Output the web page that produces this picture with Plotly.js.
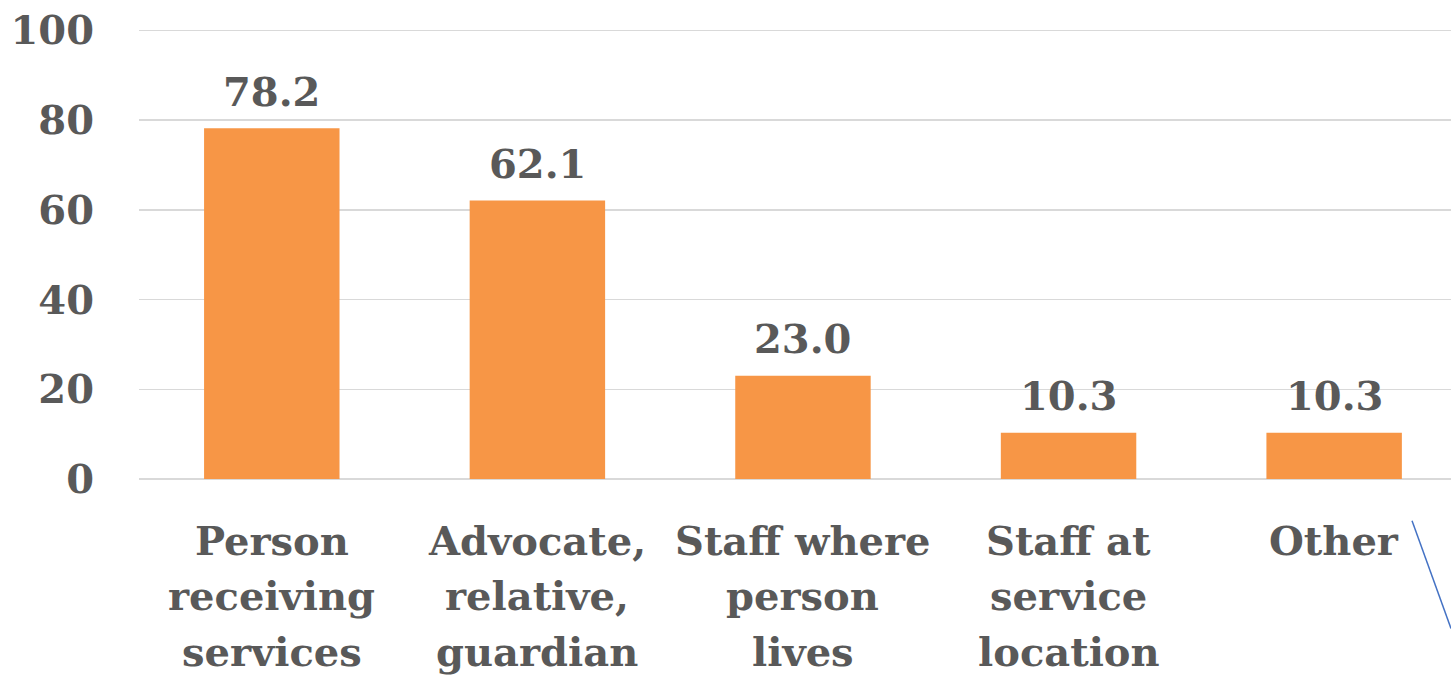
<!DOCTYPE html>
<html>
<head>
<meta charset="utf-8">
<script src="https://cdn.plot.ly/plotly-3.0.1.min.js"></script>
<style>html,body{margin:0;padding:0;background:#fff;}#chart{width:1451px;height:676px;}</style>
</head>
<body>
<div id="chart"></div>
<script>
const categories = ["Person receiving services", "Advocate, relative, guardian", "Staff where person lives", "Staff at service location", "Other"];
const labelLines = [
  ["Person", "receiving", "services"],
  ["Advocate,", "relative,", "guardian"],
  ["Staff where", "person", "lives"],
  ["Staff at", "service", "location"],
  ["Other"]
];
const values = [78.2, 62.1, 23.0, 10.3, 10.3];
const yTicks = [0, 20, 40, 60, 80, 100];

const FONT = "'DejaVu Serif', 'Liberation Serif', serif";
const TXT = "#595959";
const FS = 40;

const annotations = [];
categories.forEach((c, i) => {
  annotations.push({
    x: c, y: values[i], xref: 'x', yref: 'y',
    text: values[i].toFixed(1), showarrow: false,
    yanchor: 'middle', yshift: 37,
    font: {family: FONT, size: FS, color: TXT, weight: 'bold'}
  });
  labelLines[i].forEach((line, j) => {
    annotations.push({
      x: c, y: 0, xref: 'x', yref: 'paper',
      text: line, showarrow: false,
      yanchor: 'middle', yshift: -61 - j * 55.5,
      font: {family: FONT, size: FS, color: TXT, weight: 'bold'}
    });
  });
});

const trace = {
  type: 'bar',
  x: categories,
  y: values,
  marker: {color: '#F79646'},
  hoverinfo: 'x+y'
};

const layout = {
  width: 1451, height: 676,
  margin: {l: 139, r: 0, t: 26, b: 197, pad: 0},
  paper_bgcolor: '#ffffff', plot_bgcolor: '#ffffff',
  showlegend: false,
  bargap: 0.49,
  font: {family: FONT, color: TXT},
  xaxis: {
    type: 'category',
    range: [-0.5, 4.44],
    showticklabels: false,
    showgrid: false, zeroline: false, showline: false, ticks: ''
  },
  yaxis: {
    range: [0, 101],
    tickvals: yTicks,
    ticktext: yTicks.map(String),
    showgrid: true, gridcolor: '#D9D9D9', gridwidth: 1.5,
    zeroline: true, zerolinecolor: '#D9D9D9', zerolinewidth: 1.5,
    showline: false, ticks: '',
    ticklabelstandoff: 44,
    tickfont: {family: FONT, size: FS, color: TXT, weight: 'bold'}
  },
  annotations: annotations,
  shapes: [{
    type: 'line', xref: 'paper', yref: 'paper',
    x0: 0.9703, y0: -0.092, x1: 1.0, y1: -0.330,
    line: {color: '#4472C4', width: 1.5}
  }]
};

Plotly.newPlot('chart', [trace], layout, {displayModeBar: false, staticPlot: true});
</script>
</body>
</html>
